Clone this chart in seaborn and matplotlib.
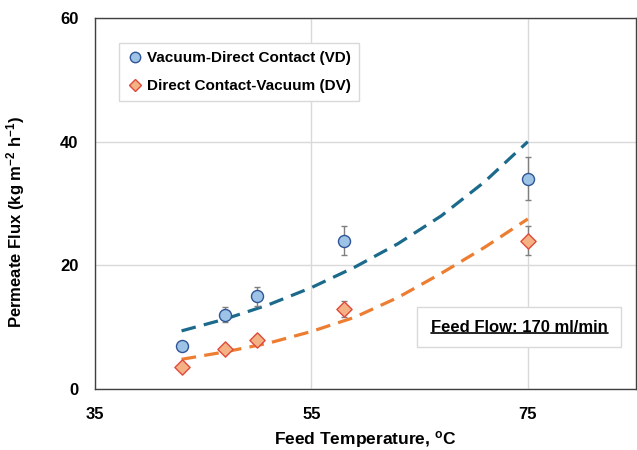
import matplotlib
matplotlib.use("Agg")
import matplotlib.pyplot as plt
from matplotlib.lines import Line2D
from matplotlib.patches import Rectangle
from matplotlib.ticker import MultipleLocator
import seaborn as sns
import pandas as pd

# ---- data ----
temps = [43, 47, 50, 58, 75]
vd_flux = [7.0, 12.0, 15.0, 24.0, 34.0]
vd_err = [0.4, 1.2, 1.5, 2.4, 3.5]
dv_flux = [3.5, 6.5, 8.0, 13.0, 24.0]
dv_err = [0.3, 0.4, 0.8, 1.3, 2.4]

model_temps = [43, 47, 51, 55, 59, 63, 67, 71, 75]
vd_model = [9.4, 11.3, 13.6, 16.4, 19.7, 23.5, 28.0, 33.5, 40.0]
dv_model = [4.8, 6.0, 7.4, 9.3, 11.6, 14.8, 18.7, 22.9, 27.5]

labels = ["Vacuum-Direct Contact (VD)", "Direct Contact-Vacuum (DV)"]
x_ticks = [35, 55, 75]
y_ticks = [0, 20, 40, 60]

sns.set_theme(style="white")
plt.rcParams["font.family"] = ["Liberation Sans", "DejaVu Sans"]
plt.rcParams["mathtext.fontset"] = "custom"
plt.rcParams["mathtext.rm"] = "Liberation Sans:bold"
plt.rcParams["mathtext.bf"] = "Liberation Sans:bold"
plt.rcParams["mathtext.it"] = "Liberation Sans:bold"
plt.rcParams["mathtext.default"] = "bf"
plt.rcParams["text.color"] = "black"

pts = pd.DataFrame({
    "T": temps * 2,
    "flux": vd_flux + dv_flux,
    "err": vd_err + dv_err,
    "mode": [labels[0]] * len(temps) + [labels[1]] * len(temps),
})
model = pd.DataFrame({
    "T": model_temps * 2,
    "flux": vd_model + dv_model,
    "mode": [labels[0]] * len(model_temps) + [labels[1]] * len(model_temps),
})

line_colors = {labels[0]: "#1b6a8c", labels[1]: "#ed7d31"}
face_colors = {labels[0]: "#9dc3e6", labels[1]: "#f4b183"}
edge_colors = {labels[0]: "#2f5597", labels[1]: "#e04a3a"}
markers = {labels[0]: "o", labels[1]: "D"}

fig = plt.figure(figsize=(6.37, 4.5), dpi=100)
ax = fig.add_axes([95 / 637, 61 / 450, 541 / 637, 371 / 450])

sns.lineplot(data=model, x="T", y="flux", hue="mode", palette=line_colors,
             ax=ax, legend=False, linewidth=2.3, zorder=2)
for ln in ax.get_lines():
    ln.set_dashes([4.6, 2.6])

for lab in labels:
    sub = pts[pts["mode"] == lab]
    ax.errorbar(sub["T"], sub["flux"], yerr=sub["err"], fmt="none",
                ecolor="#7f7f7f", elinewidth=1.0, capsize=2.5, capthick=1.0,
                zorder=3)

for lab in labels:
    sub = pts[pts["mode"] == lab]
    sns.scatterplot(data=sub, x="T", y="flux", marker=markers[lab],
                    color=face_colors[lab], edgecolor=edge_colors[lab],
                    linewidth=1.0, s=75 if lab == labels[0] else 60,
                    ax=ax, zorder=4, label=lab)

ax.set_xlim(35, 85)
ax.set_ylim(0, 60)
ax.set_xticks(x_ticks)
ax.set_yticks(y_ticks)
ax.xaxis.set_minor_locator(MultipleLocator(4))
ax.yaxis.set_minor_locator(MultipleLocator(4))
ax.grid(True, which="major", color="#d9d9d9", linewidth=1.0, zorder=0)
ax.set_axisbelow(True)
for s in ax.spines.values():
    s.set_color("#404040")
    s.set_linewidth(1.0)
ax.tick_params(axis="both", which="both", direction="in", color="#404040",
               width=0.8)
ax.tick_params(axis="both", which="major", length=4.5, labelsize=12)
ax.tick_params(axis="both", which="minor", length=4.5)
ax.tick_params(axis="x", which="major", pad=13)
ax.tick_params(axis="y", which="major", pad=12)
for t in ax.get_xticklabels() + ax.get_yticklabels():
    t.set_fontweight("bold")
    t.set_color("black")

ax.set_xlabel("Feed Temperature, $^{o}$C", fontsize=12.5, fontweight="bold",
              color="black")
ax.set_ylabel("Permeate Flux (kg m$^{-2}$ h$^{-1}$)", fontsize=12,
              fontweight="bold", color="black")
ax.xaxis.set_label_coords(0.5, -0.108)
ax.yaxis.set_label_coords(-0.125, 0.45)

handles = [
    Line2D([], [], linestyle="none", marker="o", markersize=7.5,
           markerfacecolor=face_colors[labels[0]],
           markeredgecolor=edge_colors[labels[0]], markeredgewidth=1.0),
    Line2D([], [], linestyle="none", marker="D", markersize=6.5,
           markerfacecolor=face_colors[labels[1]],
           markeredgecolor=edge_colors[labels[1]], markeredgewidth=1.0),
]
leg = ax.legend(handles, labels, loc="upper left",
                bbox_to_anchor=(0.044, 0.933), borderaxespad=0,
                fancybox=False, frameon=True, framealpha=1,
                prop={"weight": "bold", "size": 11},
                handlelength=1.0, handletextpad=0.3, labelspacing=0.9,
                borderpad=0.55)
leg.get_frame().set_edgecolor("#d9d9d9")
leg.get_frame().set_linewidth(1.0)
leg.set_zorder(6)
for t in leg.get_texts():
    t.set_color("black")

# annotation box
ax.add_patch(Rectangle((0.596, 0.113), 0.376, 0.108, transform=ax.transAxes,
                       facecolor="white", edgecolor="#d9d9d9", linewidth=1.0,
                       zorder=5))
txt = ax.text(0.784, 0.167, "Feed Flow: 170 ml/min", transform=ax.transAxes,
              ha="center", va="center", fontsize=12, fontweight="bold",
              color="black", zorder=6)
fig.canvas.draw()
bb = txt.get_window_extent(renderer=fig.canvas.get_renderer())
inv = fig.transFigure.inverted()
(x0, y0), (x1, _) = inv.transform([(bb.x0, bb.y0 + 1.5), (bb.x1, bb.y0)])
fig.add_artist(Line2D([x0, x1], [y0, y0], transform=fig.transFigure,
                      color="black", linewidth=1.2, zorder=7))

fig.savefig("out.png", dpi=100)
